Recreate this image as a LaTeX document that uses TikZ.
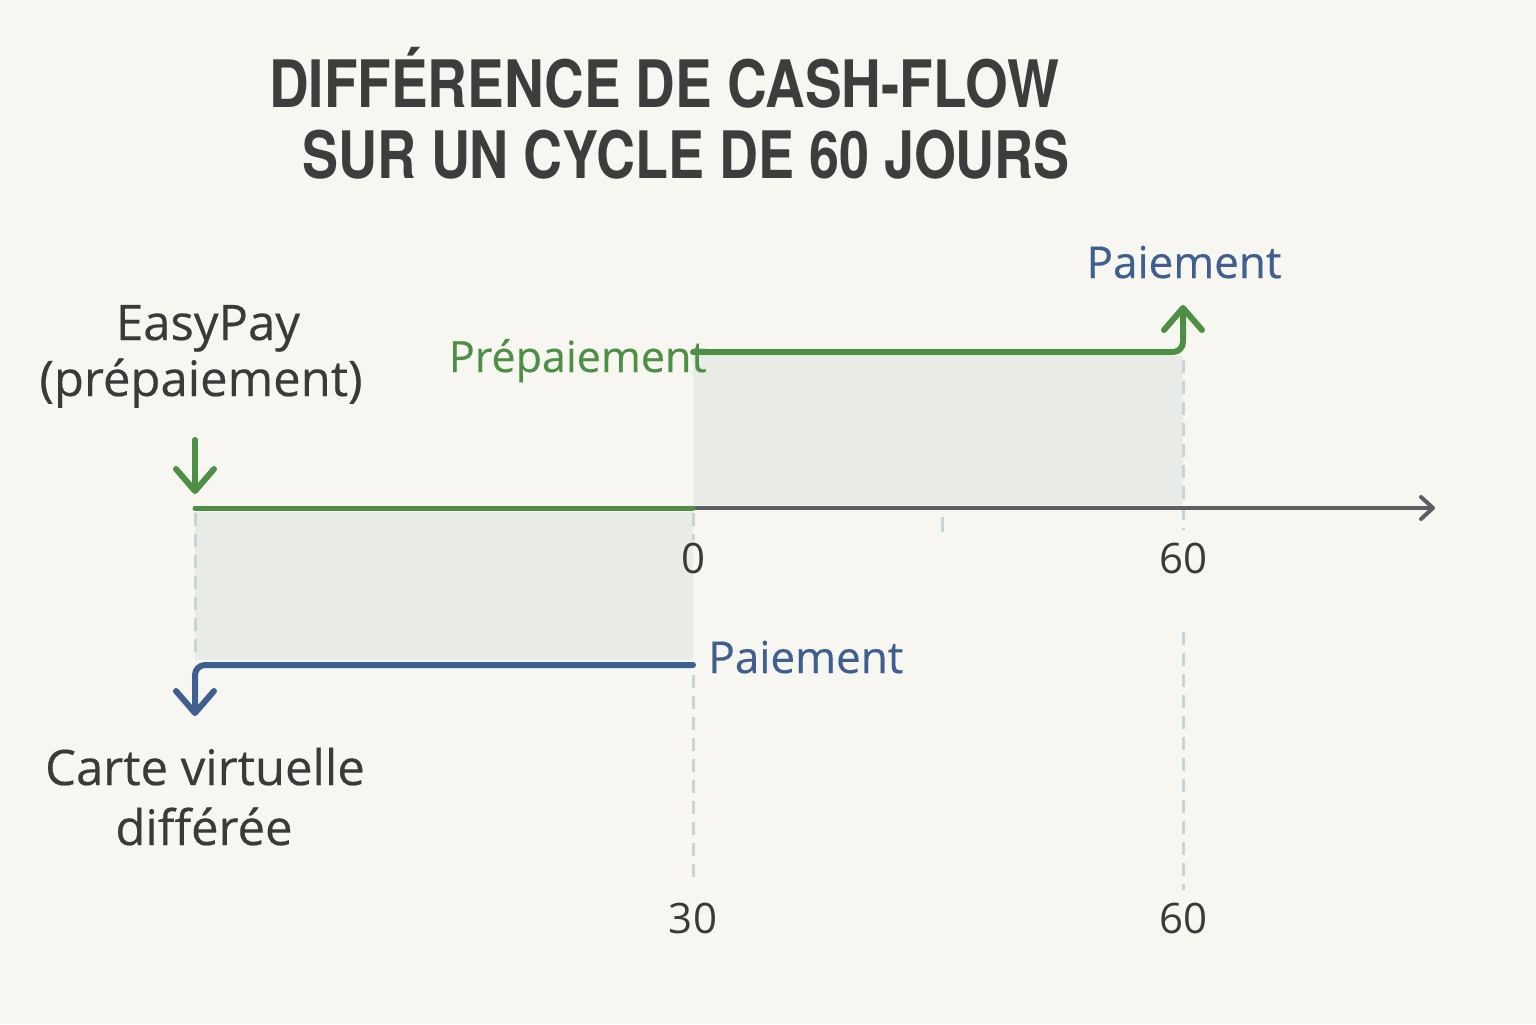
\documentclass[tikz,border=0pt]{standalone}
\usepackage{fontspec}
\setmainfont{Open Sans}
\newfontfamily\lblfont[FakeBold=0.35]{Open Sans}
\newfontfamily\titlefont[FakeStretch=0.84]{TeX Gyre Heros}
\newfontfamily\titlefontb[FakeStretch=0.825]{TeX Gyre Heros}
\usetikzlibrary{arrows.meta}
\definecolor{bg}{HTML}{F8F6F0}
\definecolor{ttl}{HTML}{3D3D3D}
\definecolor{txt}{HTML}{3A3A3A}
\definecolor{grn}{HTML}{4C8F45}
\definecolor{blu}{HTML}{3E5F8F}
\definecolor{axiscol}{HTML}{5B5F63}
\definecolor{shade}{HTML}{E8EBE6}
\definecolor{guidecol}{HTML}{C4D4D8}
\tikzset{
  titletext/.style={text=ttl, inner sep=0pt, anchor=base, font=\titlefont\bfseries\fontsize{32.7pt}{36pt}\selectfont},
  titletextb/.style={text=ttl, inner sep=0pt, anchor=base, font=\titlefontb\bfseries\fontsize{32.7pt}{36pt}\selectfont},
  lbl/.style={text=txt, inner sep=0pt, anchor=base, font=\lblfont\fontsize{24.5pt}{30pt}\selectfont},
  numlbl/.style={text=txt, inner sep=0pt, anchor=base, font=\fontsize{21pt}{25pt}\selectfont},
  grnlbl/.style={text=grn, inner sep=0pt, font=\lblfont\fontsize{21.5pt}{25pt}\selectfont},
  blulbl/.style={text=blu, inner sep=0pt, font=\lblfont\fontsize{22pt}{26pt}\selectfont},
  guide/.style={draw=guidecol, line width=1.5pt, dash pattern=on 6.5pt off 4pt},
  shadebox/.style={fill=shade, draw=none},
  grnarrow/.style={draw=grn, line width=3pt, line cap=round, rounded corners=5pt, -{Straight Barb[length=11pt,width=19pt,round]}},
  bluarrow/.style={draw=blu, line width=3pt, line cap=round, rounded corners=5pt, -{Straight Barb[length=11pt,width=19pt,round]}},
  grnline/.style={draw=grn, line width=2.5pt, line cap=round},
  axisline/.style={draw=axiscol, line width=2pt, -{Straight Barb[length=6pt,width=11pt,round]}},
  tickmark/.style={draw=guidecol, line width=1.5pt},
}
\begin{document}
\begin{tikzpicture}[x=0.5pt,y=-0.5pt]
\fill[bg] (0,0) rectangle (1536,1024);
\useasboundingbox (0,0) rectangle (1536,1024);

% title
\node[titletext] (t1) at (664,107) {DIFFÉRENCE DE CASH-FLOW};
\node[titletextb] (t2) at (686,178) {SUR UN CYCLE DE 60 JOURS};

% shaded areas
\fill[shadebox] (693,356) rectangle (1183,505);
\fill[shadebox] (195,512) rectangle (693,660);

% coordinates
\coordinate (dA1) at (195,513);
\coordinate (dA2) at (195,660);
\coordinate (dB1) at (693,513);
\coordinate (dB2) at (693,540);
\coordinate (dB3) at (693,675);
\coordinate (dB4) at (693,882);
\coordinate (dC1) at (1183,360);
\coordinate (dC2) at (1183,530);
\coordinate (dC3) at (1183,632);
\coordinate (dC4) at (1183,890);

\coordinate (ax0) at (195,508);
\coordinate (axm) at (693,508);
\coordinate (axe) at (1435,508);
\coordinate (tk1) at (942,517);
\coordinate (tk2) at (942,532);

\coordinate (gd1) at (195,440);
\coordinate (gd2) at (195,494);

\coordinate (gu1) at (693,352);
\coordinate (gu2) at (1183,352);
\coordinate (gu3) at (1183,305);

\coordinate (bl1) at (693,665);
\coordinate (bl2) at (195,665);
\coordinate (bl3) at (195,716);

% guides
\draw[guide] (dA1) -- (dA2);
\draw[guide] (dB1) -- (dB2);
\draw[guide] (dB3) -- (dB4);
\draw[guide] (dC1) -- (dC2);
\draw[guide] (dC3) -- (dC4);

% axis
\draw[axisline] (axm) -- (axe);
\draw[grnline] (ax0) -- (axm);
\draw[tickmark] (tk1) -- (tk2);

% arrows
\draw[grnarrow] (gd1) -- (gd2);
\draw[grnarrow] (gu1) -- (gu2) -- (gu3);
\draw[bluarrow] (bl1) -- (bl2) -- (bl3);

% labels
\node[lbl] (easy1) at (208,340) {EasyPay};
\node[lbl] (easy2) at (201,396) {(prépaiement)};
\node[grnlbl, anchor=base east] (prep) at (707,372) {Prépaiement};
\node[blulbl, anchor=base] (pay1) at (1184,278) {Paiement};
\node[blulbl, anchor=base west] (pay2) at (708,673) {Paiement};
\node[lbl] (carte1) at (205,785) {Carte virtuelle};
\node[lbl] (carte2) at (204,845) {différée};

\node[numlbl] (n0) at (693,573) {0};
\node[numlbl] (n60a) at (1183,573) {60};
\node[numlbl] (n30) at (693,933) {30};
\node[numlbl] (n60b) at (1183,933) {60};
\end{tikzpicture}
\end{document}
